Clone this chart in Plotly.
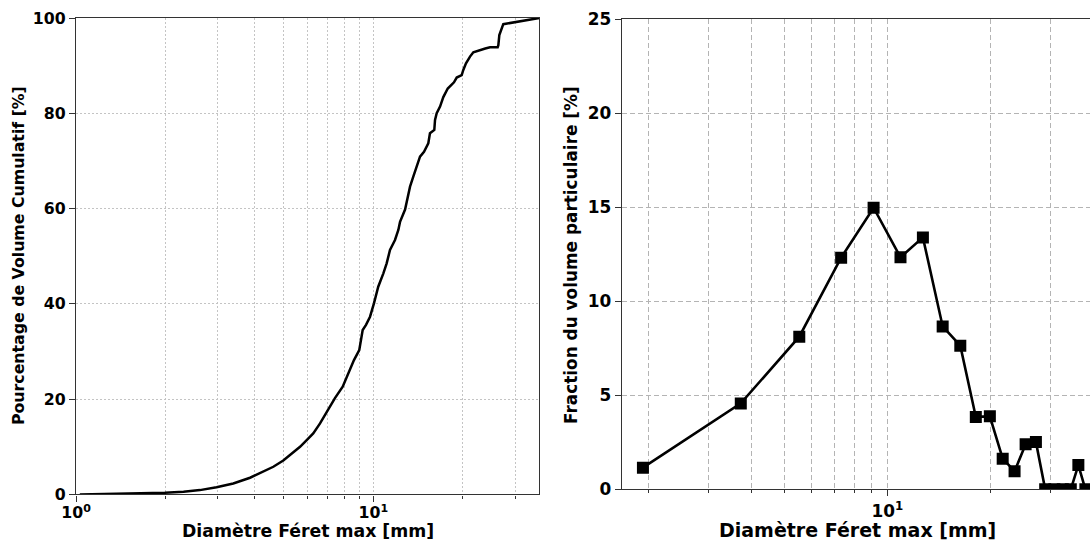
import plotly.graph_objects as go
import math

# ---- Data ----
cum_diam = [1.03, 1.56, 1.99, 2.30, 2.61, 2.97, 3.38, 3.85, 4.27, 4.61, 4.98, 5.38, 5.67, 5.97,
            6.28, 6.62, 7.02, 7.43, 7.89, 8.24, 8.61, 8.97, 9.21, 9.45, 9.75, 10.05, 10.39, 10.81,
            11.09, 11.38, 11.83, 12.14, 12.30, 12.79, 13.05, 13.29, 13.63, 14.00, 14.36, 14.81,
            15.31, 15.51, 16.04, 16.13, 16.34, 16.77, 17.20, 17.80, 18.68, 19.08, 19.83, 20.08,
            20.50, 21.15, 21.70, 23.80, 24.70, 26.20, 26.34, 26.54, 27.37, 36.17]
cum_pct = [0.0, 0.2, 0.36, 0.57, 0.9, 1.5, 2.3, 3.5, 4.8, 5.8, 7.1, 8.8, 10.0, 11.4,
           12.8, 14.9, 17.7, 20.2, 22.6, 25.4, 28.2, 30.3, 34.5, 35.6, 37.3, 40.1, 43.6, 46.4,
           48.5, 51.3, 53.4, 55.5, 57.2, 59.8, 62.5, 64.6, 66.7, 68.8, 70.9, 71.9,
           73.7, 75.8, 76.5, 78.6, 80.0, 81.4, 83.4, 85.2, 86.5, 87.5, 88.0, 89.1,
           90.5, 91.9, 92.8, 93.6, 93.85, 93.85, 94.3, 96.4, 98.7, 100.0]

frac_diam = [1.93, 3.73, 5.53, 7.33, 9.12, 10.93, 12.71, 14.52, 16.35, 18.15, 19.95, 21.75,
             23.56, 25.38, 27.20, 28.95, 30.80, 32.60, 34.40, 36.20, 37.95]
frac_pct = [1.15, 4.57, 8.12, 12.32, 14.98, 12.34, 13.40, 8.66, 7.64, 3.85, 3.88, 1.63,
            0.96, 2.39, 2.52, 0.0, 0.0, 0.0, 0.0, 1.29, 0.0]

x_title = "Diamètre Féret max [mm]"
y1_title = "Pourcentage de Volume Cumulatif [%]"
y2_title = "Fraction du volume particulaire [%]"
major_x = [1, 10]
major_x_text = ["10<sup>0</sup>", "10<sup>1</sup>"]
minor_x = [2, 3, 4, 5, 6, 7, 8, 9, 20, 30]
y1_ticks = [0, 20, 40, 60, 80, 100]
y2_ticks = [0, 5, 10, 15, 20, 25]

W, H = 1090, 542
FONT = "DejaVu Sans"


def bold(size):
    return dict(family=FONT, size=size, color="black", weight="bold")


fig = go.Figure()
fig.add_trace(go.Scatter(x=cum_diam, y=cum_pct, mode="lines",
                         line=dict(color="black", width=2.5),
                         xaxis="x", yaxis="y", showlegend=False))
fig.add_trace(go.Scatter(x=frac_diam, y=frac_pct, mode="lines+markers",
                         line=dict(color="black", width=2.6),
                         marker=dict(symbol="square", size=12, color="black"),
                         cliponaxis=True,
                         xaxis="x2", yaxis="y2", showlegend=False))

axis_line = dict(showline=True, linecolor="#333333", linewidth=1.3, automargin=False)
DOT = "2px,2px"
DASH = "5px,3px"

# pixel geometry of the two panels
L_x0, L_x1 = 76, 539.3
L_top, L_bot = 18, 494.4
R_x0 = 621.7
R_top, R_bot = 19.3, 489.3

fig.update_layout(
    width=W, height=H,
    margin=dict(l=0, r=0, t=0, b=0, autoexpand=False),
    paper_bgcolor="white", plot_bgcolor="white",
    xaxis=dict(type="log", domain=[L_x0 / W, L_x1 / W], range=[0, math.log10(36.17)],
               anchor="y", tickmode="array", tickvals=major_x, ticktext=major_x_text,
               ticks="outside", ticklen=6, tickwidth=1.3, tickcolor="#333333",
               ticklabelstandoff=-2,
               showgrid=True, gridcolor="#c4c4c4", griddash=DOT, gridwidth=0.9,
               minor=dict(tickvals=minor_x, ticks="outside", ticklen=3, tickwidth=1,
                          tickcolor="#333333", showgrid=True, gridcolor="#c4c4c4",
                          griddash=DOT, gridwidth=0.9),
               tickfont=bold(15.75), mirror=True, zeroline=False, **axis_line),
    yaxis=dict(domain=[(H - L_bot) / H, (H - L_top) / H], range=[0, 100], anchor="x",
               tickmode="array", tickvals=y1_ticks, ticks="outside", ticklen=6,
               tickwidth=1.3, tickcolor="#333333",
               showgrid=True, gridcolor="#c4c4c4", griddash=DOT, gridwidth=0.9,
               tickfont=bold(15.75), mirror=True, zeroline=False, **axis_line),
    xaxis2=dict(type="log", domain=[R_x0 / W, 1.0],
                range=[math.log10(1.673), math.log10(39.15)],
                anchor="y2", tickmode="array", tickvals=[10], ticktext=["10<sup>1</sup>"],
                ticks="outside", ticklen=6, tickwidth=1.3, tickcolor="#333333",
                showgrid=True, gridcolor="#b4b4b4", griddash=DASH, gridwidth=1.1,
                minor=dict(tickvals=minor_x, ticks="outside", ticklen=3, tickwidth=1,
                           tickcolor="#333333", showgrid=True, gridcolor="#b4b4b4",
                           griddash=DASH, gridwidth=1.1),
                tickfont=bold(16.9), mirror=True, zeroline=False, **axis_line),
    yaxis2=dict(domain=[(H - R_bot) / H, (H - R_top) / H], range=[0, 25], anchor="x2",
                tickmode="array", tickvals=y2_ticks, ticks="outside", ticklen=6,
                tickwidth=1.3, tickcolor="#333333",
                showgrid=True, gridcolor="#b4b4b4", griddash=DASH, gridwidth=1.1,
                tickfont=bold(16.9), mirror=False, zeroline=False, **axis_line),
)

fig.add_annotation(text=x_title, xref="paper", yref="paper",
                   x=307.5 / W, y=0, showarrow=False, borderpad=0,
                   font=bold(17.3), xanchor="center", yanchor="bottom")
fig.add_annotation(text=x_title, xref="paper", yref="paper",
                   x=857.5 / W, y=0, showarrow=False, borderpad=0,
                   font=bold(19), xanchor="center", yanchor="bottom")
fig.add_annotation(text=y1_title, xref="paper", yref="paper",
                   x=18 / W, y=(H - 256) / H, showarrow=False, textangle=-90,
                   font=bold(15.75), xanchor="center", yanchor="middle")
fig.add_annotation(text=y2_title, xref="paper", yref="paper",
                   x=571 / W, y=(H - 255) / H, showarrow=False, textangle=-90,
                   font=bold(16.9), xanchor="center", yanchor="middle")

fig.write_html("out.html")
